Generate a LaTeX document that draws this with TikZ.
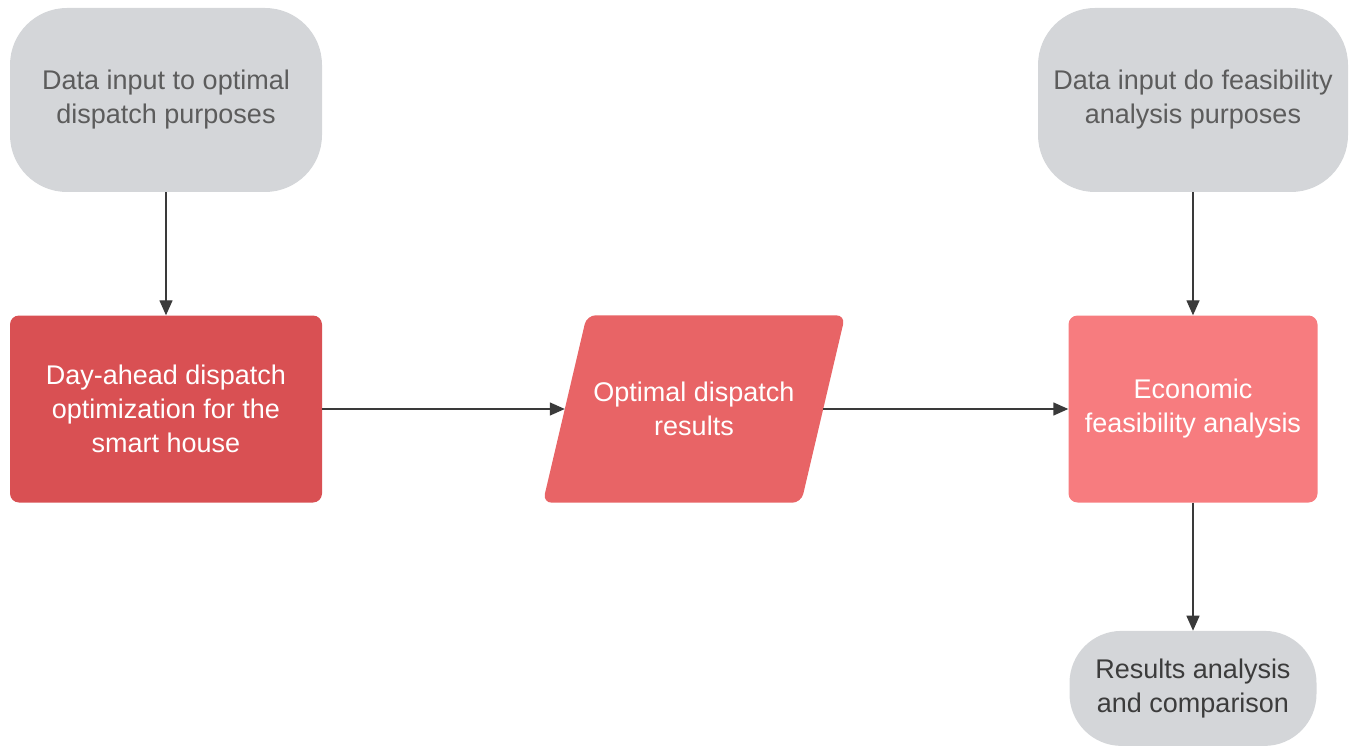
\documentclass[tikz,border=0pt]{standalone}
\usepackage{fontspec}
\setmainfont{Liberation Sans}
\usepackage{tikz}
\usetikzlibrary{arrows.meta,positioning}
\definecolor{termgray}{HTML}{D4D6D9}
\definecolor{redA}{HTML}{D95053}
\definecolor{redB}{HTML}{E86466}
\definecolor{redC}{HTML}{F77C7F}
\definecolor{txtgray}{HTML}{5C5C5C}
\definecolor{txtdark}{HTML}{3C3C3C}
\definecolor{linegray}{HTML}{3A3A3A}
\pgfdeclarelayer{bg}
\pgfsetlayers{bg,main}
\tikzset{
  >=Stealth,
  every node/.append style={font=\fontsize{27}{34}\selectfont},
}

\begin{document}
\begin{tikzpicture}[
  x=1pt, y=-1pt,
  term/.style ={fill=termgray, draw=none, rounded corners=57pt, align=center,
                text=txtgray, inner sep=4pt},
  proc/.style ={draw=none, rounded corners=9pt, align=center, text=white,
                minimum height=187pt, inner sep=4pt},
  io/.style   ={draw=none, align=center, text=white, minimum height=187pt,
                minimum width=258pt, inner sep=4pt},
  arrow/.style={-{Triangle[length=15pt,width=13pt]}, draw=linegray, line width=1.4pt}
]
\useasboundingbox (0,0) rectangle (1357,751);

% Inputs (top row)
\node[term, minimum width=312pt, minimum height=184pt] (inopt) at (166,100)
  {Data input to optimal\\dispatch purposes};
\node[term, minimum width=310pt, minimum height=184pt] (infeas) at (1193,100)
  {Data input do feasibility\\analysis purposes};

% Main chain (middle row)
\node[proc, fill=redA, minimum width=312pt] (dayahead) at (166,409)
  {Day-ahead dispatch\\optimization for the\\smart house};
\node[io] (optres) at (694,409) {Optimal dispatch\\results};
\node[proc, fill=redC, minimum width=249pt] (econ) at (1193,409)
  {Economic\\feasibility analysis};

% slanted data shape behind the results node
\begin{pgfonlayer}{bg}
  \fill[redB, rounded corners=9pt]
    ([xshift=22pt]optres.north west) -- ([xshift=22pt]optres.north east)
    -- ([xshift=-22pt]optres.south east) -- ([xshift=-22pt]optres.south west) -- cycle;
\end{pgfonlayer}

% Output
\node[term, rounded corners=52pt, text=txtdark, minimum width=247pt,
  minimum height=115pt, below=128pt of econ] (results)
  {Results analysis\\and comparison};

% Connectors
\foreach \a/\b in {inopt/dayahead, dayahead/optres, optres/econ, infeas/econ, econ/results}{
  \draw[arrow] (\a) -- (\b);
}

\end{tikzpicture}
\end{document}
